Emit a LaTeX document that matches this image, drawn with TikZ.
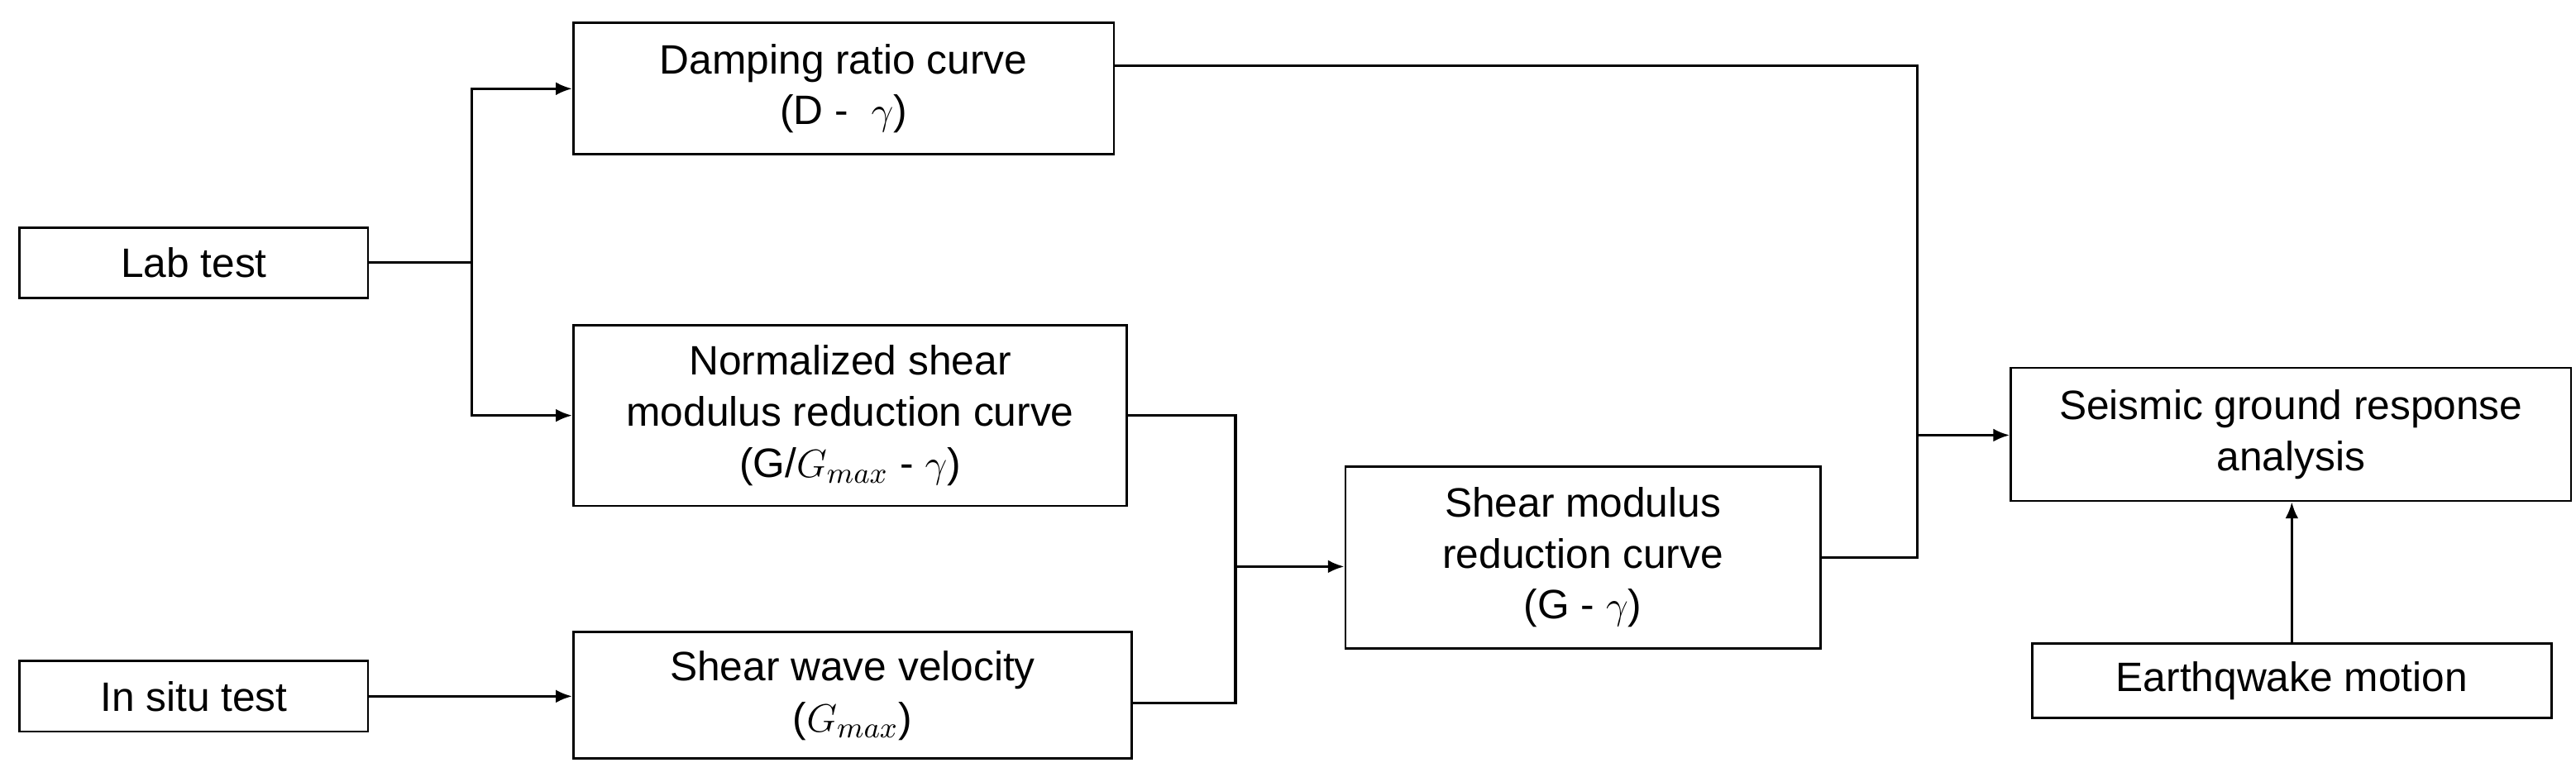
\documentclass[tikz,border=0pt]{standalone}
\usepackage{fontspec}
\setmainfont{Liberation Sans}
\usetikzlibrary{arrows.meta}
\begin{document}
\begin{tikzpicture}[x=0.5pt,y=-0.5pt,
  box/.style={draw,line width=0.7pt,align=center,inner sep=0pt,font=\fontsize{12.5}{15.5}\selectfont},
  ln/.style={line width=0.8pt},
  ar/.style={line width=0.8pt,-{Latex[length=5pt,width=4pt]}}]
\useasboundingbox (0,0) rectangle (1568,473);
\node[box,minimum width=106pt,minimum height=21.5pt] (lab) at (118,160) {Lab test};
\node[box,minimum width=106pt,minimum height=21.5pt] (ins) at (118,424) {In situ test};
\node[box,minimum width=164.5pt,minimum height=40pt] (damp) at (513.5,54) {Damping ratio curve\\(D - \ $\gamma$)};
\node[box,minimum width=168.5pt,minimum height=55pt] (norm) at (517.5,253) {Normalized shear\\modulus reduction curve\\(G/$G_{max}$ - $\gamma$)};
\node[box,minimum width=170pt,minimum height=38.5pt] (vel) at (519,423.5) {Shear wave velocity\\($G_{max}$)};
\node[box,minimum width=144.5pt,minimum height=55.5pt] (smod) at (963.5,339.5) {Shear modulus\\reduction curve\\(G - $\gamma$)};
\node[box,minimum width=170.5pt,minimum height=40.5pt] (seis) at (1394.5,264.5) {Seismic ground response\\analysis};
\node[box,minimum width=158pt,minimum height=22.5pt] (eq) at (1395,414.5) {Earthqwake motion};
\coordinate (j1) at (287,160);
\coordinate (j2) at (752,345);
\coordinate (j3) at (1167,265);
\coordinate (d1) at (1167,40);
\draw[ln] (lab.east) -- (j1);
\draw[ar] (j1) |- (damp.west);
\draw[ar] (j1) |- (norm.west);
\draw[ar] (ins.east) -- (vel.west |- ins.east);
\draw[ln] (damp.east |- d1) -- (d1) -- (j3);
\draw[ln] (smod.east) -| (j3);
\draw[ar] (j3) -- (seis.west |- j3);
\draw[ln] (norm.east) -| (j2);
\draw[ln] (vel.east |- 0,428) -| (j2);
\draw[ar] (j2) -- (smod.west |- j2);
\draw[ar] (eq.north) -- (seis.south -| eq.north);
\end{tikzpicture}
\end{document}
